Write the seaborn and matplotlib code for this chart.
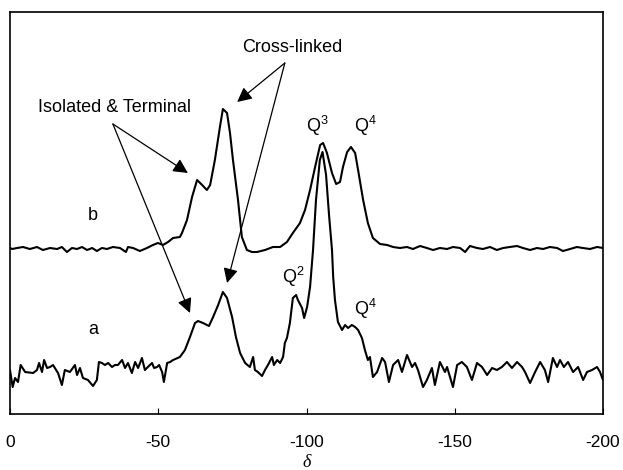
import matplotlib
matplotlib.use("Agg")
import matplotlib.pyplot as plt
import seaborn as sns
import pandas as pd

# ---- data (delta in ppm, intensity in arbitrary units) ----
delta_a = [0.0, -0.9, -1.7, -2.7, -3.6, -5.1, -7.8, -9.1, -9.8, -10.8, -11.5, -12.5, -13.5, -14.5,
           -16.2, -17.5, -18.5, -20.2, -21.9, -22.6, -23.6, -24.6, -26.3, -28.0, -29.3, -30.0,
           -31.0, -32.0, -33.1, -34.4, -35.4, -36.4, -37.8, -38.8, -39.8, -41.1, -42.2, -43.2,
           -44.5, -45.5, -46.5, -47.9, -48.6, -49.6, -50.3, -51.3, -51.9, -53.0, -54.0, -55.0,
           -57.3, -59.0, -60.7, -62.4, -63.4, -65.1, -67.1, -68.5, -70.2, -71.8, -73.2, -74.9,
           -76.2, -77.6, -79.3, -80.9, -82.0, -82.6, -83.6, -85.0, -86.0, -87.0, -88.4, -89.0,
           -90.1, -91.1, -92.1, -92.7, -93.4, -94.4, -95.4, -96.5, -97.1, -98.5, -99.2, -100.2,
           -101.2, -102.2, -103.2, -104.5, -105.4, -106.6, -107.6, -108.6, -109.0, -109.6,
           -110.6, -112.0, -113.0, -114.0, -115.3, -116.4, -117.4, -118.7, -119.7, -120.7,
           -121.4, -122.4, -123.8, -125.5, -126.5, -127.8, -129.2, -130.9, -132.2, -133.9,
           -135.6, -136.6, -137.6, -139.3, -140.6, -142.3, -143.3, -145.0, -146.7, -147.4,
           -149.4, -150.8, -152.4, -154.1, -155.8, -157.5, -159.2, -160.9, -162.6, -164.2,
           -165.9, -167.6, -169.3, -171.0, -172.7, -173.7, -175.4, -177.1, -178.8, -180.4,
           -181.5, -183.1, -184.5, -185.5, -186.8, -188.2, -189.9, -191.6, -193.3, -194.6,
           -196.3, -198.0, -199.0, -200.0]
intensity_a = [44, 27, 36, 32, 49, 42, 41, 44, 51, 42, 54, 46, 47, 49,
               41, 29, 44, 42, 49, 39, 46, 36, 34, 28, 34, 52,
               51, 49, 51, 47, 49, 49, 54, 46, 51, 41, 52, 46,
               56, 44, 47, 51, 46, 47, 49, 42, 32, 51, 52, 54,
               57, 64, 77, 91, 93, 91, 88, 97, 109, 122, 116, 97,
               77, 61, 51, 47, 57, 44, 42, 38, 44, 49, 57, 49,
               54, 51, 57, 71, 76, 91, 116, 119, 114, 106, 96, 107,
               127, 164, 214, 254, 262, 239, 199, 164, 137, 114,
               92, 84, 89, 86, 89, 87, 84, 76, 64, 54,
               57, 37, 42, 56, 52, 32, 49, 54, 42, 59,
               47, 51, 44, 27, 34, 46, 29, 52, 42, 47,
               27, 49, 52, 47, 34, 51, 47, 39, 46, 44,
               47, 52, 46, 52, 47, 42, 31, 42, 52, 44,
               32, 56, 47, 54, 47, 52, 42, 47, 34, 42,
               44, 47, 42, 34]

delta_b = [0.0, -0.7, -2.4, -4.4, -6.7, -9.1, -11.1, -13.5, -15.9, -17.5, -19.2, -20.9, -22.6,
           -24.3, -26.0, -27.7, -29.3, -31.0, -32.7, -34.7, -37.1, -39.1, -39.8, -41.5, -43.8,
           -46.2, -48.2, -49.9, -51.6, -53.3, -55.0, -57.3, -58.0, -59.7, -61.4, -63.1, -64.8,
           -66.4, -67.5, -69.1, -70.8, -71.8, -73.2, -74.2, -75.2, -76.9, -78.2, -79.9, -81.6,
           -83.3, -86.0, -88.7, -91.1, -93.4, -95.4, -97.8, -99.5, -101.2, -102.9, -104.6,
           -105.6, -106.9, -108.6, -110.0, -111.3, -112.3, -113.7, -115.0, -116.4, -117.4,
           -119.1, -120.7, -122.4, -124.8, -127.2, -129.2, -131.5, -133.9, -135.9, -138.3,
           -140.6, -142.7, -145.0, -147.4, -149.4, -151.8, -153.5, -155.1, -157.5, -159.5,
           -161.9, -164.2, -166.3, -168.6, -171.0, -173.0, -175.4, -177.7, -179.8, -182.1,
           -184.5, -186.5, -188.9, -191.2, -193.2, -195.6, -198.0, -200.0]
intensity_b = [166, 165, 166, 167, 165, 167, 164, 166, 165, 167, 162, 166, 165,
               167, 164, 166, 163, 166, 165, 167, 166, 162, 167, 166, 163,
               166, 169, 171, 169, 172, 176, 177, 181, 194, 217, 234, 229,
               224, 229, 254, 287, 305, 301, 281, 254, 214, 177, 164, 162,
               162, 164, 167, 167, 172, 181, 191, 204, 224, 247, 269,
               271, 261, 241, 230, 232, 247, 262, 267, 261, 244,
               214, 191, 176, 170, 169, 167, 166, 167, 165, 168,
               166, 164, 166, 165, 167, 166, 162, 168, 166, 165,
               167, 164, 166, 167, 168, 166, 164, 166, 165, 167,
               166, 163, 165, 167, 166, 165, 167, 166]

x_ticks = [0, -50, -100, -150, -200]
x_tick_labels = ["0", "-50", "-100", "-150", "-200"]
trace_labels = ["a", "b"]

df = pd.concat([
    pd.DataFrame({"delta": delta_a, "intensity": intensity_a, "trace": "a"}),
    pd.DataFrame({"delta": delta_b, "intensity": intensity_b, "trace": "b"}),
], ignore_index=True)

sns.set_style("ticks")
plt.rcParams["font.family"] = ["Liberation Sans", "DejaVu Sans"]
plt.rcParams["text.color"] = "black"
plt.rcParams["axes.labelcolor"] = "black"
plt.rcParams["mathtext.fontset"] = "custom"
plt.rcParams["mathtext.rm"] = "Liberation Sans"
plt.rcParams["mathtext.it"] = "Liberation Sans:italic"

fig = plt.figure(figsize=(6.23, 4.70), dpi=100)
ax = fig.add_axes([10 / 623, 56 / 470, 593 / 623, 402 / 470])

sns.lineplot(data=df, x="delta", y="intensity", units="trace", estimator=None,
             sort=False, color="black", lw=1.5, ax=ax, legend=False)

ax.set_xlim(0, -200)
ax.set_ylim(0, 402)
ax.set_yticks([])
ax.set_xticks(x_ticks)
ax.set_xticklabels(x_tick_labels)
ax.tick_params(axis="x", direction="in", length=4, width=0.8, pad=15,
               labelsize=12.5, colors="black")
ax.set_xlabel("δ", family="Liberation Serif", style="italic", fontsize=13,
              labelpad=3, color="black")
ax.set_ylabel("")
for s in ax.spines.values():
    s.set_visible(True)
    s.set_color("black")
    s.set_linewidth(1.2)

fs = 13
ax.text(-28.0, 198, trace_labels[1], ha="center", va="center", fontsize=fs)
ax.text(-28.0, 85, trace_labels[0], ha="center", va="center", fontsize=fs)

ax.text(-35.1, 306, "Isolated & Terminal", ha="center", va="center", fontsize=fs)
ax.text(-95.1, 367, "Cross-linked", ha="center", va="center", fontsize=fs)

ax.text(-103.6, 288, "Q$^{3}$", ha="center", va="center", fontsize=fs)
ax.text(-119.8, 288, "Q$^{4}$", ha="center", va="center", fontsize=fs)
ax.text(-95.6, 137, "Q$^{2}$", ha="center", va="center", fontsize=fs)
ax.text(-119.8, 105, "Q$^{4}$", ha="center", va="center", fontsize=fs)

aprops = dict(arrowstyle="-|>", mutation_scale=22, lw=0.9, color="black",
              shrinkA=0, shrinkB=0)
ax.annotate("", xy=(-60.0, 241), xytext=(-34.7, 290), arrowprops=aprops)
ax.annotate("", xy=(-60.7, 101), xytext=(-34.7, 290), arrowprops=aprops)
ax.annotate("", xy=(-76.6, 312), xytext=(-92.7, 351), arrowprops=aprops)
ax.annotate("", xy=(-73.2, 131), xytext=(-92.7, 351), arrowprops=aprops)

fig.savefig("out.png", dpi=100)
